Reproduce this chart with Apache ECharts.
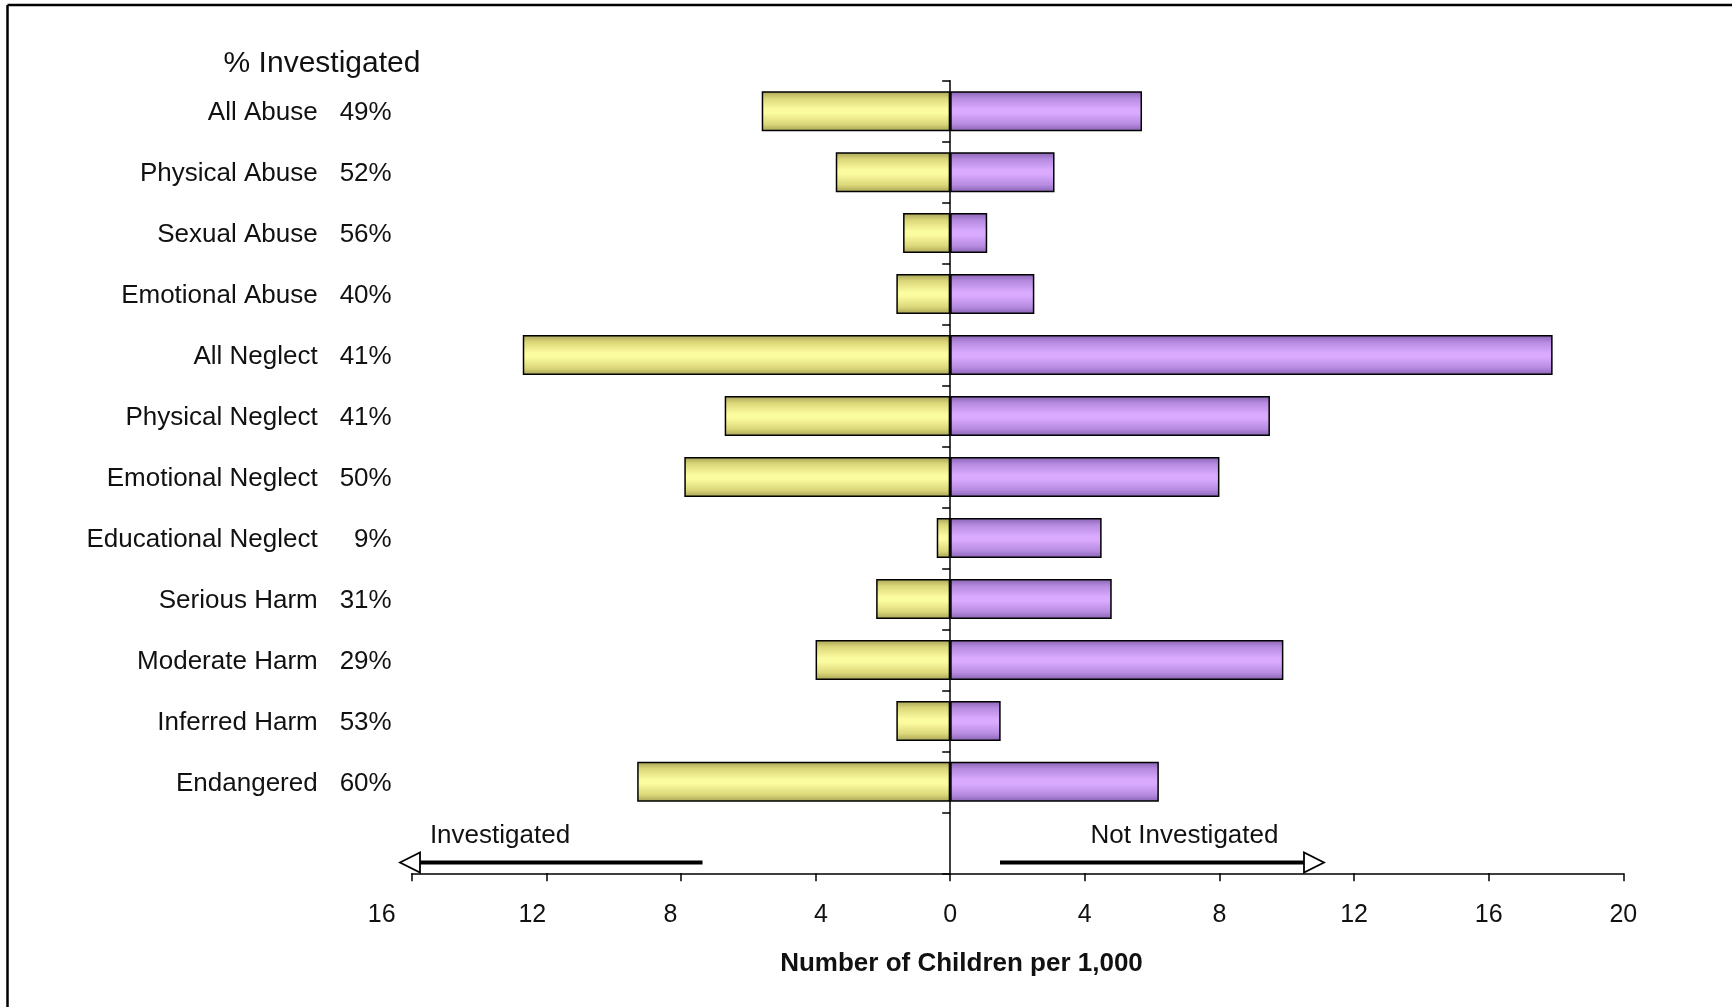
<!DOCTYPE html>
<html>
<head>
<meta charset="utf-8">
<script src="https://cdn.jsdelivr.net/npm/echarts@6/dist/echarts.min.js"></script>
<style>
  html, body { margin: 0; padding: 0; background: #ffffff; }
  #chart { width: 1732px; height: 1007px; }
</style>
</head>
<body>
<div id="chart"></div>
<script>
// ---- data ----
const categories = ['All Abuse', 'Physical Abuse', 'Sexual Abuse', 'Emotional Abuse', 'All Neglect',
  'Physical Neglect', 'Emotional Neglect', 'Educational Neglect', 'Serious Harm', 'Moderate Harm',
  'Inferred Harm', 'Endangered'];
const pctInvestigated = ['49%', '52%', '56%', '40%', '41%', '41%', '50%', '9%', '31%', '29%', '53%', '60%'];
const investigated = [5.6, 3.4, 1.4, 1.6, 12.7, 6.7, 7.9, 0.4, 2.2, 4.0, 1.6, 9.3];
const notInvestigated = [5.7, 3.1, 1.1, 2.5, 17.9, 9.5, 8.0, 4.5, 4.8, 9.9, 1.5, 6.2];
const xTicks = [-16, -12, -8, -4, 0, 4, 8, 12, 16, 20];

const FONT = '"Liberation Sans", Arial, Helvetica, sans-serif';
// the bottom (13th) slot is empty: it holds the direction arrows
const yCats = categories.concat(['']);
const pctMap = {};
categories.forEach((c, i) => { pctMap[c] = pctInvestigated[i]; });

function grad(edge, mid, inner) {
  return new echarts.graphic.LinearGradient(0, 0, 0, 1, [
    { offset: 0, color: edge }, { offset: 0.18, color: mid }, { offset: 0.45, color: inner },
    { offset: 0.55, color: inner }, { offset: 0.82, color: mid }, { offset: 1, color: edge }
  ]);
}

// label offsets copy the quirky placement of the negative-side tick labels
const shiftKey = { '-16': 'a', '-12': 'b', '-8': 'c', '-4': 'd' };
const tickRich = {
  a: { fontSize: 25, fontFamily: FONT, color: '#111', padding: [0, 60, 0, 0] },
  b: { fontSize: 25, fontFamily: FONT, color: '#111', padding: [0, 28, 0, 0] },
  c: { fontSize: 25, fontFamily: FONT, color: '#111', padding: [0, 21, 0, 0] },
  d: { fontSize: 25, fontFamily: FONT, color: '#111', padding: [0, 0, 0, 11] }
};

const chart = echarts.init(document.getElementById('chart'), null, { renderer: 'canvas' });

const option = {
  animation: false,
  backgroundColor: '#ffffff',
  grid: { left: 411.7, right: 108.7, top: 80.7, bottom: 133.7, containLabel: false },
  xAxis: {
    type: 'value',
    min: xTicks[0],
    max: xTicks[xTicks.length - 1],
    interval: 4,
    axisLine: { show: true, onZero: false, lineStyle: { color: '#000', width: 1.5 } },
    axisTick: { show: true, length: 8, lineStyle: { color: '#000', width: 1.5 } },
    splitLine: { show: false },
    axisLabel: {
      margin: 29,
      fontSize: 25,
      fontFamily: FONT,
      color: '#111',
      rich: tickRich,
      formatter: function (v) {
        const k = shiftKey[String(v)];
        const t = String(Math.abs(v));
        return k ? '{' + k + '|' + t + '}' : t;
      }
    }
  },
  yAxis: [
    {
      type: 'category',
      data: yCats,
      inverse: true,
      position: 'left',
      axisLine: { show: false, onZero: false },
      axisTick: { show: false },
      axisLabel: {
        margin: 20,
        fontFamily: FONT,
        fontSize: 26,
        color: '#111',
        formatter: function (v) {
          if (!v) return '';
          return '{n|' + v + '}{p|' + pctMap[v] + '}';
        },
        rich: {
          n: { fontFamily: FONT, fontSize: 26, color: '#111', align: 'right', padding: [4, 0, 0, 0] },
          p: { fontFamily: FONT, fontSize: 26, color: '#111', width: 74, align: 'right', padding: [4, 0, 0, 0] }
        }
      }
    },
    {
      type: 'category',
      data: yCats,
      inverse: true,
      position: 'left',
      axisLine: { show: true, onZero: true, lineStyle: { color: '#000', width: 1.5 } },
      axisTick: { show: true, length: 8, lineStyle: { color: '#000', width: 1.5 } },
      axisLabel: { show: false }
    }
  ],
  series: [
    {
      name: 'Investigated',
      type: 'bar',
      yAxisIndex: 0,
      barWidth: 40,
      barGap: '-100%',
      data: investigated.map(v => -v),
      itemStyle: {
        color: grad('#a7a255', '#dcd87a', '#fbfb9f'),
        borderColor: '#000',
        borderWidth: 1.5
      }
    },
    {
      name: 'Not Investigated',
      type: 'bar',
      yAxisIndex: 0,
      barWidth: 40,
      barGap: '-100%',
      data: notInvestigated,
      itemStyle: {
        color: grad('#8862b2', '#b68be0', '#daaaff'),
        borderColor: '#000',
        borderWidth: 1.5
      }
    }
  ],
  graphic: [
    // page frame (left and top edges)
    { type: 'line', shape: { x1: 7.5, y1: 5, x2: 7.5, y2: 1007 }, style: { stroke: '#000', lineWidth: 2.5 } },
    { type: 'line', shape: { x1: 7.5, y1: 5, x2: 1732, y2: 5 }, style: { stroke: '#000', lineWidth: 2.5 } },
    // heading of the label column
    { type: 'text', x: 322, y: 64,
      style: { text: '% Investigated', font: '30px ' + FONT, fill: '#111', textAlign: 'center', textVerticalAlign: 'middle' } },
    // axis title
    { type: 'text', x: 961.5, y: 963.5,
      style: { text: 'Number of Children per 1,000', font: 'bold 26px ' + FONT, fill: '#111', textAlign: 'center', textVerticalAlign: 'middle' } },
    // direction labels
    { type: 'text', x: 500, y: 836,
      style: { text: 'Investigated', font: '26px ' + FONT, fill: '#111', textAlign: 'center', textVerticalAlign: 'middle' } },
    { type: 'text', x: 1184.5, y: 836,
      style: { text: 'Not Investigated', font: '26px ' + FONT, fill: '#111', textAlign: 'center', textVerticalAlign: 'middle' } },
    // left arrow
    { type: 'line', shape: { x1: 419, y1: 862.5, x2: 702.5, y2: 862.5 }, style: { stroke: '#000', lineWidth: 4 } },
    { type: 'polygon', shape: { points: [[400, 862.5], [420, 852.5], [420, 872.5]] }, style: { fill: '#fff', stroke: '#000', lineWidth: 1.8 } },
    // right arrow
    { type: 'line', shape: { x1: 1000, y1: 862.5, x2: 1305, y2: 862.5 }, style: { stroke: '#000', lineWidth: 4 } },
    { type: 'polygon', shape: { points: [[1324, 862.5], [1304, 852.5], [1304, 872.5]] }, style: { fill: '#fff', stroke: '#000', lineWidth: 1.8 } }
  ]
};

chart.setOption(option);
</script>
</body>
</html>
